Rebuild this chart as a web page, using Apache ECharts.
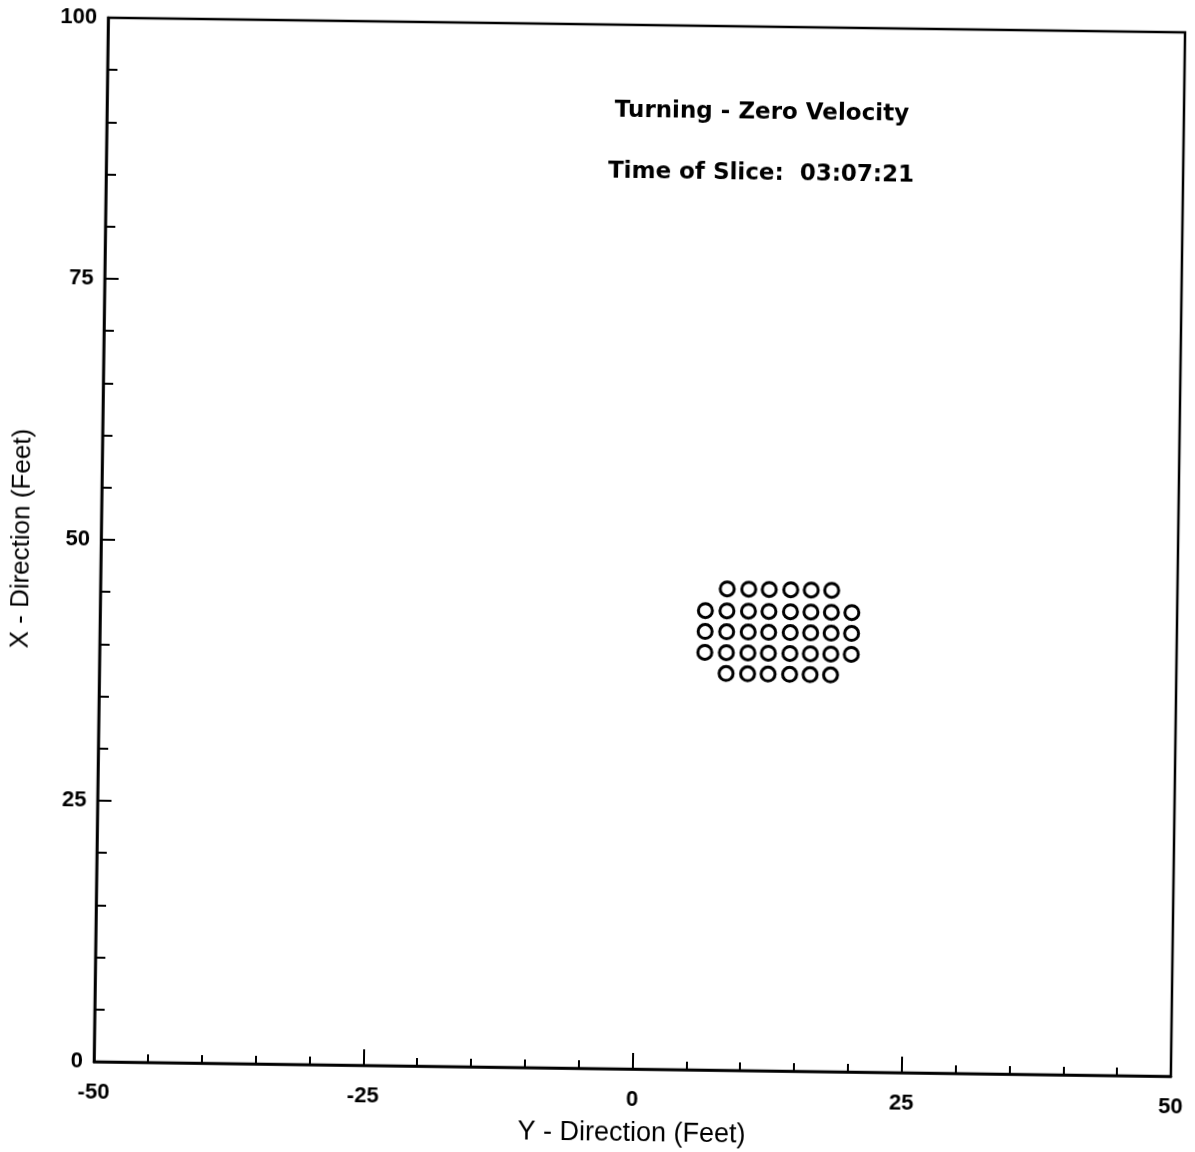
<!DOCTYPE html>
<html>
<head>
<meta charset="utf-8">
<script src="https://cdn.jsdelivr.net/npm/echarts@6/dist/echarts.min.js"></script>
<style>
  html, body { margin: 0; padding: 0; background: #fff; }
  /* the scan is slightly tilted clockwise */
  #chart { width: 1195px; height: 1152px; transform: rotate(0.78deg); transform-origin: 639px 547px; }
</style>
</head>
<body>
<div id="chart"></div>
<script>
// ship positions in feet (y-direction, x-direction)
const shipY = [
  8.2, 10.2, 12.1, 14.1, 16.0, 17.9,
  6.2, 8.2, 10.2, 12.1, 14.1, 16.0, 17.9, 19.8,
  6.2, 8.2, 10.2, 12.1, 14.1, 16.0, 17.9, 19.8,
  6.2, 8.2, 10.2, 12.1, 14.1, 16.0, 17.9, 19.8,
  8.2, 10.2, 12.1, 14.1, 16.0, 17.9
];
const shipX = [
  46.1, 46.1, 46.1, 46.1, 46.1, 46.1,
  44.0, 44.0, 44.0, 44.0, 44.0, 44.0, 44.0, 44.0,
  42.0, 42.0, 42.0, 42.0, 42.0, 42.0, 42.0, 42.0,
  40.0, 40.0, 40.0, 40.0, 40.0, 40.0, 40.0, 40.0,
  38.0, 38.0, 38.0, 38.0, 38.0, 38.0
];
const titleLines = ['Turning - Zero Velocity', 'Time of Slice:  03:07:21'];

const points = shipY.map((y, i) => [y, shipX[i]]);

const myChart = echarts.init(document.getElementById('chart'));
const font = 'Liberation Sans, Arial, sans-serif';

const option = {
  backgroundColor: '#fff',
  animation: false,
  grid: {
    left: 101, top: 25, width: 1077, height: 1044,
    show: true, borderColor: '#000', borderWidth: 2.5,
    containLabel: false, outerBoundsMode: 'none'
  },
  xAxis: {
    type: 'value',
    min: -50, max: 50, interval: 25,
    name: 'Y - Direction (Feet)',
    nameLocation: 'middle',
    nameGap: 51,
    nameTextStyle: { fontFamily: font, fontSize: 27, color: '#000' },
    axisLine: { onZero: false, lineStyle: { color: '#000', width: 2.5 } },
    axisTick: { inside: true, length: 16, lineStyle: { color: '#000', width: 2 } },
    minorTick: { show: true, splitNumber: 5, length: 8, lineStyle: { color: '#000', width: 2 } },
    axisLabel: { fontFamily: font, fontSize: 22, fontWeight: 'bold', color: '#000', margin: 20, showMinLabel: true, showMaxLabel: true },
    splitLine: { show: false }
  },
  yAxis: {
    type: 'value',
    min: 0, max: 100, interval: 25,
    name: 'X - Direction (Feet)',
    nameLocation: 'middle',
    nameGap: 66,
    nameTextStyle: { fontFamily: font, fontSize: 26, color: '#000' },
    axisLine: { onZero: false, lineStyle: { color: '#000', width: 2.5 } },
    axisTick: { inside: true, length: 14, lineStyle: { color: '#000', width: 2 } },
    minorTick: { show: true, splitNumber: 5, length: 10, lineStyle: { color: '#000', width: 2 } },
    axisLabel: { fontFamily: font, fontSize: 22, fontWeight: 'bold', color: '#000', margin: 11, showMinLabel: true, showMaxLabel: true },
    splitLine: { show: false }
  },
  graphic: titleLines.map((t, i) => ({
    type: 'text',
    x: 756, y: 111 + i * 61,
    style: {
      text: t, fill: '#000', font: 'bold 23px DejaVu Sans, sans-serif',
      align: 'center', verticalAlign: 'middle'
    }
  })),
  series: [{
    name: 'Ships',
    type: 'scatter',
    data: points,
    symbol: 'circle',
    symbolSize: 14,
    itemStyle: { color: '#fff', borderColor: '#000', borderWidth: 3, opacity: 1 }
  }]
};

myChart.setOption(option);
</script>
</body>
</html>
